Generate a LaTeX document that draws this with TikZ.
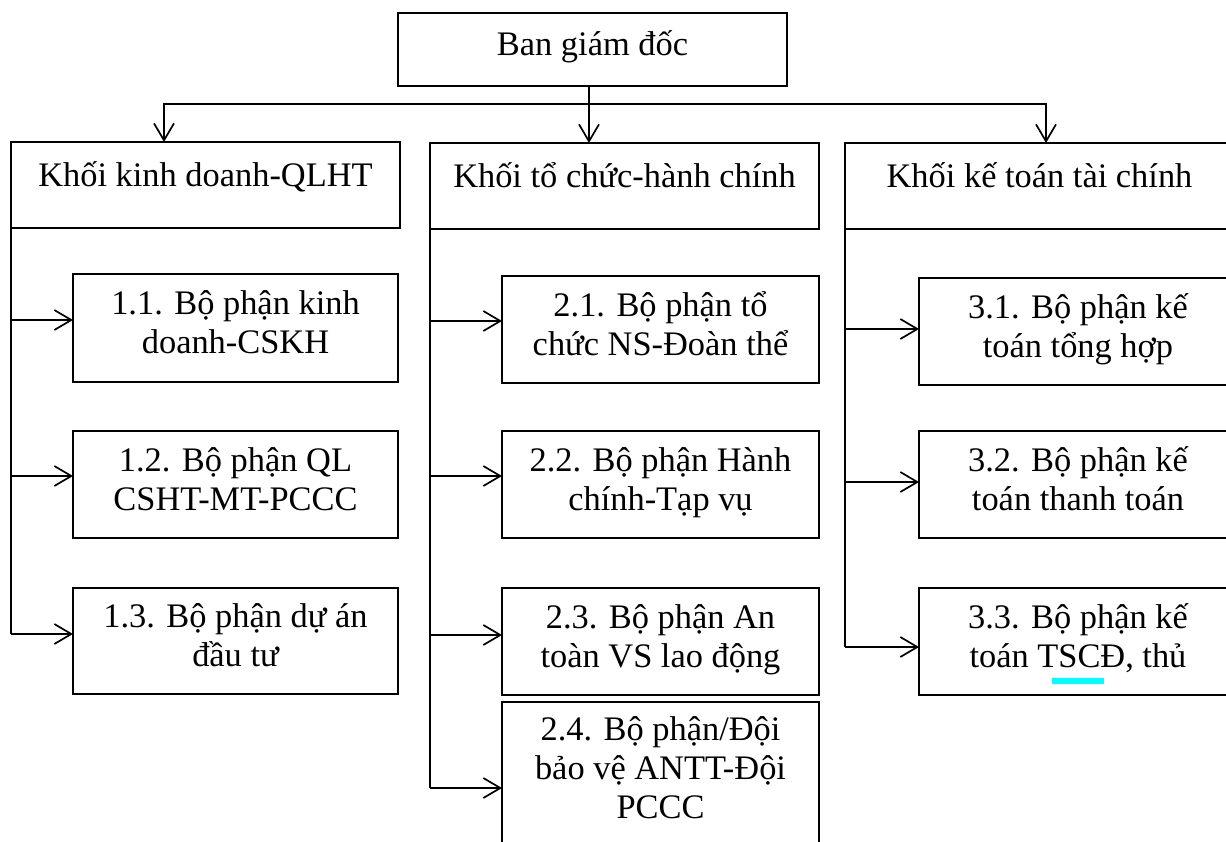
\documentclass[tikz,border=0pt]{standalone}
\usepackage{fontspec}
\setmainfont{Liberation Serif}
\usetikzlibrary{arrows.meta}
\definecolor{markcyan}{RGB}{0,255,255}
\begin{document}
\begin{tikzpicture}[x=0.5pt,y=-0.5pt,
  box/.style={draw, line width=0.65pt, rectangle, anchor=north west, outer sep=0pt,
    inner sep=0pt, align=center, font=\fontsize{17.2}{19.5}\selectfont},
  topbox/.style={box, text height=12pt, text depth=6.5pt},
  lvl2/.style={box, minimum width=194.5pt, minimum height=43pt, text height=12pt, text depth=10.5pt},
  sub/.style={box, execute at begin node=\strut, execute at end node=\strut},
  conn/.style={line width=0.85pt},
  arr/.style={conn, -{Straight Barb[length=8.5pt,width=10pt]}}
]
\useasboundingbox (0,0) rectangle (1226,841);
\fill[white] (0,0) rectangle (1226,841);
\clip (0,0) rectangle (1226,841);

% top
\node[topbox, minimum width=194.5pt, minimum height=36.5pt] (bgd) at (398,13) {Ban giám đốc};

% level 2
\node[lvl2] (k1) at (11,142) {Khối kinh doanh-QLHT};
\node[lvl2] (k2) at (430,143) {Khối tổ chức-hành chính};
\node[lvl2] (k3) at (845,143) {Khối kế toán tài chính};

% column 1
\node[sub, minimum width=162.5pt, minimum height=54pt] (b11) at (73,274) {1.1. Bộ phận kinh\\doanh-CSKH};
\node[sub, minimum width=162.5pt, minimum height=53.5pt] (b12) at (73,431) {1.2. Bộ phận QL\\CSHT-MT-PCCC};
\node[sub, minimum width=162.5pt, minimum height=53pt] (b13) at (73,588) {1.3. Bộ phận dự án\\đầu tư};

% column 2
\node[sub, minimum width=158.5pt, minimum height=53.5pt] (b21) at (502,276) {2.1. Bộ phận tổ\\chức NS-Đoàn thể};
\node[sub, minimum width=158.5pt, minimum height=53.5pt] (b22) at (502,431) {2.2. Bộ phận Hành\\chính-Tạp vụ};
\node[sub, minimum width=158.5pt, minimum height=53.5pt] (b23) at (502,588) {2.3. Bộ phận An\\toàn VS lao động};
\node[sub, minimum width=158.5pt, minimum height=71pt] (b24) at (502,702) {2.4. Bộ phận/Đội\\bảo vệ ANTT-Đội\\PCCC};

% column 3
\node[sub, minimum width=159pt, minimum height=53.5pt] (b31) at (919,278) {3.1. Bộ phận kế\\toán tổng hợp};
\node[sub, minimum width=159pt, minimum height=53.5pt] (b32) at (919,431) {3.2. Bộ phận kế\\toán thanh toán};
\node[sub, minimum width=159pt, minimum height=53.5pt] (b33) at (919,588) {3.3. Bộ phận kế\\toán TSCĐ, thủ};

% cyan marker
\fill[markcyan] (1052,678) rectangle (1104,684);

% top connectors
\coordinate (j1) at (164,104);
\coordinate (j2) at (589,104);
\coordinate (j3) at (1046,104);
\draw[arr] (j2) -- (j1) -- (j1 |- k1.north);
\draw[arr] (j2) -- (j3) -- (j3 |- k3.north);
\draw[arr] (j2 |- bgd.south) -- (j2 |- k2.north);

% arrow end points
\coordinate (a11) at ([yshift=4pt]b11.west);
\coordinate (a12) at ([yshift=4.25pt]b12.west);
\coordinate (a13) at ([yshift=3.5pt]b13.west);
\coordinate (a21) at ([yshift=4.25pt]b21.west);
\coordinate (a22) at ([yshift=4.25pt]b22.west);
\coordinate (a23) at ([yshift=3.25pt]b23.west);
\coordinate (a24) at ([yshift=-43pt]b24.north west);
\coordinate (a31) at ([yshift=1.25pt]b31.west);
\coordinate (a32) at ([yshift=1.25pt]b32.west);
\coordinate (a33) at ([yshift=-2.75pt]b33.west);

% spines
\draw[conn] (k1.south west) -- (k1.south west |- a13);
\draw[conn] (k2.south west) -- (k2.south west |- a24);
\draw[conn] (k3.south west) -- (k3.south west |- a33);

\foreach \a in {a11,a12,a13} \draw[arr] (k1.south west |- \a) -- (\a);
\foreach \a in {a21,a22,a23,a24} \draw[arr] (k2.south west |- \a) -- (\a);
\foreach \a in {a31,a32,a33} \draw[arr] (k3.south west |- \a) -- (\a);
\end{tikzpicture}
\end{document}
